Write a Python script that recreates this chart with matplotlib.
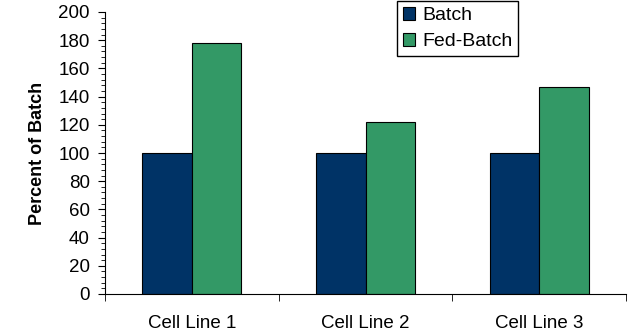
import matplotlib.pyplot as plt
import numpy as np
from matplotlib.ticker import MultipleLocator

plt.rcParams['font.family'] = ['Liberation Sans', 'DejaVu Sans']

cats = ["Cell Line 1", "Cell Line 2", "Cell Line 3"]
batch = [100, 100, 100]
fed_batch = [178, 122, 147]

fig = plt.figure(figsize=(6.4, 3.32), dpi=100)
ax = fig.add_axes([105/640, 1-294/332, (626-105)/640, (294-12)/332])

x = np.arange(len(cats))
w = 0.285
ax.bar(x - w/2, batch, w, color="#003366", edgecolor="black", linewidth=0.8, label="Batch")
ax.bar(x + w/2, fed_batch, w, color="#339966", edgecolor="black", linewidth=0.8, label="Fed-Batch")

ax.set_xlim(-0.5, len(cats) - 0.5)
ax.set_ylim(0, 200)
ax.spines["top"].set_visible(False)
ax.spines["right"].set_visible(False)

ax.set_xticks(x)
ax.set_xticklabels(cats, fontsize=13.5)
ax.set_xticks(np.arange(-0.5, len(cats), 1), minor=True)
ax.tick_params(axis="x", which="major", length=0, pad=15)
ax.tick_params(axis="x", which="minor", length=5, direction="out")

ax.yaxis.set_major_locator(MultipleLocator(20))
ax.yaxis.set_minor_locator(MultipleLocator(4))
ax.tick_params(axis="y", which="major", length=5, labelsize=13.5, pad=6)
ax.tick_params(axis="y", which="minor", length=3)
ax.set_ylabel("Percent of Batch", fontsize=13, fontweight="bold", labelpad=9)

fig.legend(loc="upper left", bbox_to_anchor=(397/640, 0.997), fontsize=14,
           frameon=True, fancybox=False, edgecolor="black", framealpha=1,
           handlelength=0.65, handleheight=0.65, handletextpad=0.35,
           borderpad=0.3, labelspacing=0.45, borderaxespad=0)

fig.savefig("out.png", dpi=100)
